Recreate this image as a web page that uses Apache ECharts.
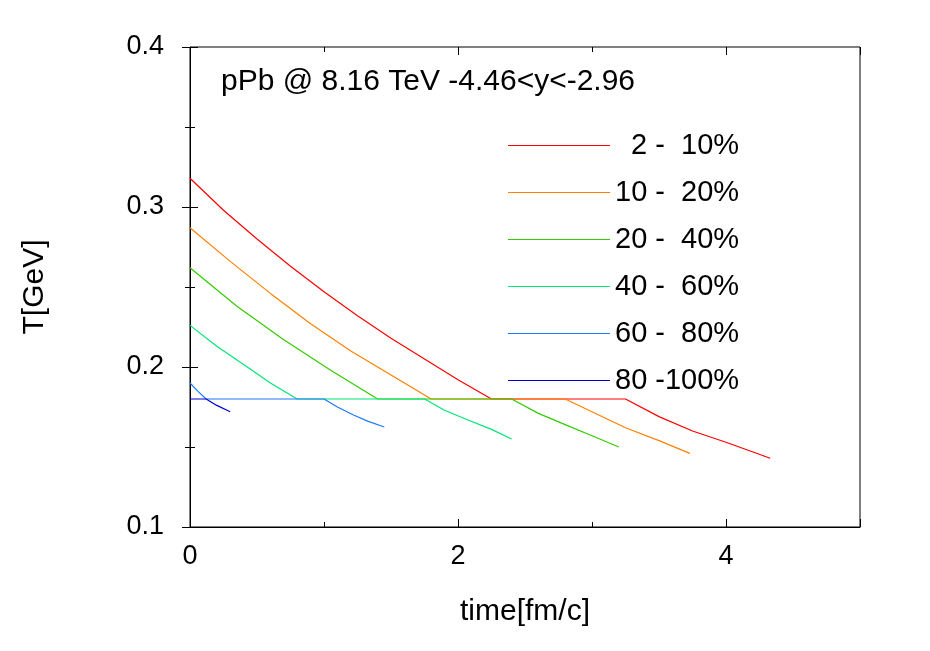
<!DOCTYPE html>
<html><head><meta charset="utf-8">
<script src="https://cdn.jsdelivr.net/npm/echarts@6/dist/echarts.min.js"></script>
<style>html,body{margin:0;padding:0;background:#fff}#c{width:930px;height:651px}</style>
</head><body><div id="c"></div>
<script>
const names = ['  2 -  10%','10 -  20%','20 -  40%','40 -  60%','60 -  80%','80 -100%'];
const colors = ['#ff0000','#ff8000','#33cc00','#00e676','#1e78ff','#0000cc'];
const s1 = [[0,0.318],[0.25,0.298],[0.5,0.280],[0.75,0.263],[1,0.247],[1.25,0.232],[1.5,0.218],[1.75,0.205],[2,0.192],[2.25,0.18],[3.25,0.18],[3.5,0.169],[3.75,0.160],[4,0.153],[4.33,0.143]];
const s2 = [[0,0.287],[0.3,0.266],[0.6,0.246],[0.9,0.227],[1.2,0.210],[1.5,0.195],[1.8,0.18],[2.8,0.18],[3.05,0.170],[3.25,0.162],[3.5,0.154],[3.73,0.146]];
const s3 = [[0,0.262],[0.35,0.238],[0.7,0.217],[1.05,0.198],[1.4,0.18],[2.4,0.18],[2.6,0.171],[2.8,0.164],[3.0,0.157],[3.2,0.150]];
const s4 = [[0,0.226],[0.2,0.213],[0.4,0.2015],[0.6,0.190],[0.8,0.18],[1.75,0.18],[1.9,0.173],[2.07,0.167],[2.25,0.161],[2.4,0.155]];
const s5 = [[0,0.19],[0.06,0.1848],[0.12,0.18],[1.0,0.18],[1.1,0.175],[1.22,0.170],[1.33,0.166],[1.45,0.1625]];
const s6 = [[0,0.18],[0.12,0.18],[0.2,0.176],[0.3,0.172]];
const all = [s1,s2,s3,s4,s5,s6];
const ch = echarts.init(document.getElementById('c'));
const font = 'Liberation Sans';
const tick = {inside:true,length:8,lineStyle:{color:'#000'}};
const mtick = {show:true,splitNumber:2,length:5,lineStyle:{color:'#000'}};
ch.setOption({
  animation:false,
  grid:{left:190,right:70,top:47,bottom:124,show:true,borderColor:'#000',borderWidth:1},
  title:{text:'pPb @ 8.16 TeV -4.46<y<-2.96',left:216,top:62,textStyle:{fontFamily:font,fontSize:30,fontWeight:'normal',color:'#000'}},
  legend:{orient:'vertical',left:503,top:126,itemWidth:102,itemHeight:10,itemGap:18,
    icon:'path://M0,5L100,5L100,6L0,6Z',
    data:names,
    textStyle:{fontFamily:font,fontSize:29,color:'#000',width:176,align:'right'}},
  xAxis:[{type:'value',min:0,max:5,interval:2,
    name:'time[fm/c]',nameLocation:'middle',nameGap:70,nameTextStyle:{fontFamily:font,fontSize:30,color:'#000'},
    axisLine:{lineStyle:{color:'#000'}},axisTick:tick,minorTick:mtick,
    splitLine:{show:false},axisLabel:{fontFamily:font,fontSize:27,color:'#000',margin:16,showMaxLabel:false}},
    {type:'value',position:'top',min:0,max:5,interval:2,axisLine:{show:false},axisTick:tick,minorTick:mtick,axisLabel:{show:false},splitLine:{show:false}}],
  yAxis:[{type:'value',min:0.1,max:0.4,interval:0.1,
    name:'T[GeV]',nameLocation:'middle',nameGap:140,nameTextStyle:{fontFamily:font,fontSize:30,color:'#000'},
    axisLine:{lineStyle:{color:'#000'}},axisTick:tick,minorTick:mtick,
    splitLine:{show:false},axisLabel:{fontFamily:font,fontSize:27,color:'#000',margin:26,formatter:v=>v.toFixed(1)}},
    {type:'value',position:'right',min:0.1,max:0.4,interval:0.1,axisLine:{show:false},axisTick:tick,minorTick:mtick,axisLabel:{show:false},splitLine:{show:false}}],
  series: all.map((d,i)=>({name:names[i],type:'line',data:d,showSymbol:false,smooth:false,
    lineStyle:{width:1.2,color:colors[i]},itemStyle:{color:colors[i]}}))
});
</script></body></html>
